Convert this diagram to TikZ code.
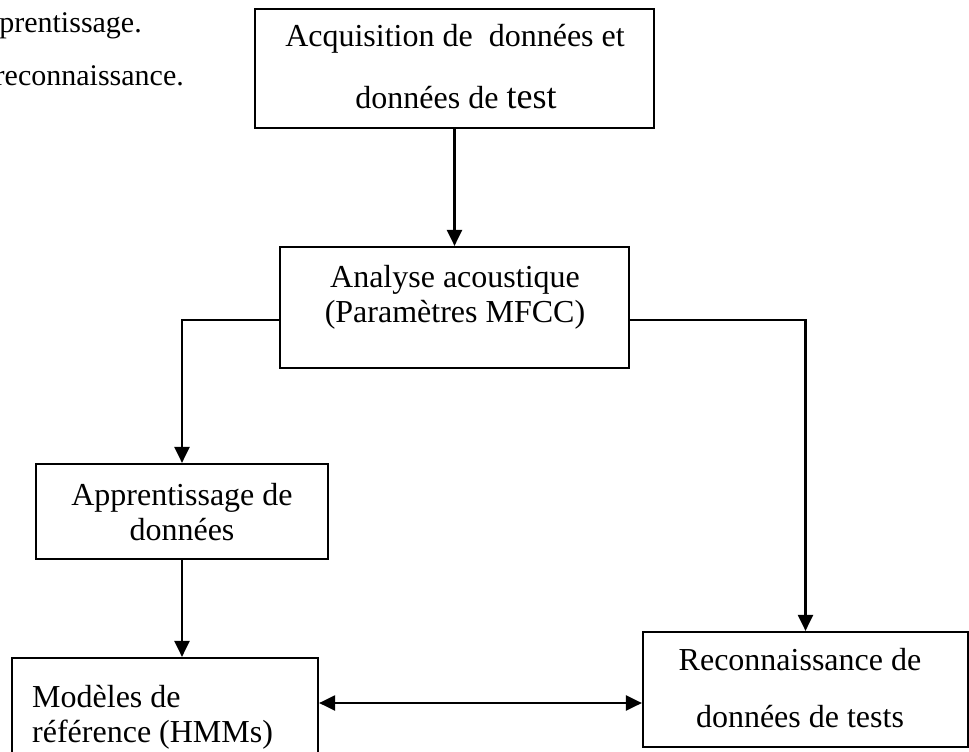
\documentclass[tikz,border=0pt]{standalone}
\usepackage{fontspec}
\setmainfont{Liberation Serif}
\usetikzlibrary{arrows.meta}

\tikzset{
  box/.style={draw, line width=2.2pt, rectangle, inner sep=0pt},
  txt/.style={inner sep=0pt, anchor=base, font=\fontsize{32}{32}\selectfont},
  side/.style={inner sep=0pt, anchor=base east, font=\fontsize{30}{30}\selectfont},
  tip/.style={Triangle[length=16pt,width=15pt]},
  arr/.style={line width=2.2pt, -{Triangle[length=16pt,width=15pt]}},
  dblarr/.style={line width=2.2pt, {Triangle[length=16pt,width=15pt]}-{Triangle[length=16pt,width=15pt]}}
}

\begin{document}
\begin{tikzpicture}[x=1pt,y=-1pt]
\useasboundingbox (0,0) rectangle (969,752);
\clip (0,0) rectangle (969,752);

% running text of the page
\node[side] (p1) at (142,33) {prentissage.};
\node[side] (p2) at (184,85) {reconnaissance.};

% boxes
\node[box, minimum width=399pt, minimum height=119pt] (acq) at (454.5,68.5) {};
\node[box, minimum width=349pt, minimum height=121pt] (ana) at (454.5,307.5) {};
\node[box, minimum width=292pt, minimum height=95pt]  (app) at (182,511.5) {};
\node[box, minimum width=306pt, minimum height=132pt] (mod) at (165,724) {};
\node[box, minimum width=325pt, minimum height=115pt] (rec) at (805.5,689.5) {};

% box texts
\node[txt] (acq1) at (455,47) {Acquisition de~ données et};
\node[txt] (acq2) at (456,108) {données de {\fontsize{36}{36}\selectfont test}};
\node[txt] (ana1) at (455,287) {Analyse acoustique};
\node[txt] (ana2) at (455,322) {(Paramètres MFCC)};
\node[txt] (app1) at (182,505) {Apprentissage de};
\node[txt] (app2) at (182,540) {données};
\node[txt, anchor=base west] (mod1) at (32,707) {Modèles de};
\node[txt, anchor=base west] (mod2) at (32,742) {référence (HMMs)};
\node[txt] (rec1) at (800,670) {Reconnaissance de};
\node[txt] (rec2) at (800,727) {données de tests};

% connectors
\coordinate (split) at (0,320);
\coordinate (link) at (0,703);
\draw[arr] (acq.south) -- (ana.north);
\draw[arr] (ana.west |- split) -| (app.north);
\draw[arr] (ana.east |- split) -| (rec.north);
\draw[arr] (app.south) -- (app.south |- mod.north);
\draw[dblarr] (mod.east |- link) -- (rec.west |- link);
\end{tikzpicture}
\end{document}
